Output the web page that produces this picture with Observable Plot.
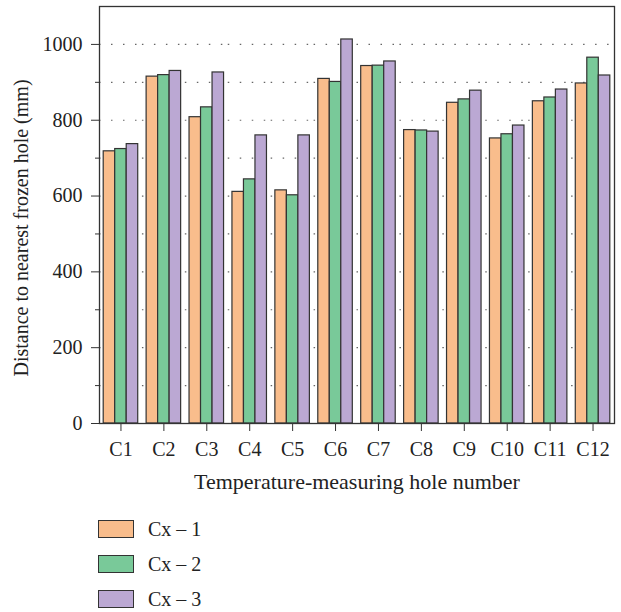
<!DOCTYPE html>
<html>
<head>
<meta charset="utf-8">
<script src="https://cdn.jsdelivr.net/npm/d3@7"></script>
<script src="https://cdn.jsdelivr.net/npm/@observablehq/plot@0.6"></script>
<style>
  body { margin: 0; background: #fff; font-family: "Liberation Serif", serif; }
  #chart svg { display: block; }
  #legend { margin-left: 98px; margin-top: 20px; }
  .item { display: flex; align-items: center; height: 18px; margin-bottom: 17px; font-size: 20px; color: #222; }
  .sw { width: 34px; height: 16px; border: 1.3px solid #333; margin-right: 14px; }
</style>
</head>
<body>
<div id="chart"></div>
<div id="legend"></div>
<script>
const holes = ["C1","C2","C3","C4","C5","C6","C7","C8","C9","C10","C11","C12"];
const series = ["Cx – 1","Cx – 2","Cx – 3"];
const cx1 = [718, 915, 808, 611, 615, 909, 943, 774, 846, 752, 850, 897];
const cx2 = [724, 919, 834, 644, 602, 901, 944, 773, 855, 763, 860, 965];
const cx3 = [737, 930, 926, 760, 760, 1013, 955, 770, 878, 786, 881, 918];
const colors = ["#F9BD8C", "#79C999", "#BBA8D3"];
const majorTicks = [0, 200, 400, 600, 800, 1000];
const minorTicks = [100, 300, 500, 700, 900];
const gridTicks = [100, 200, 300, 400, 500, 600, 700, 800, 900, 1000];

const values = [cx1, cx2, cx3];
const data = [];
holes.forEach((h, i) => series.forEach((s, k) => data.push({hole: h, series: s, value: values[k][i]})));

const chart = Plot.plot({
  width: 621,
  height: 500,
  marginLeft: 99,
  marginRight: 7,
  marginTop: 6,
  marginBottom: 77,
  style: {fontFamily: "Liberation Serif, serif", fontSize: "20px", color: "#222", background: "#fff"},
  fx: {domain: holes, padding: 0, round: false, label: null},
  x: {domain: series, paddingInner: 0, paddingOuter: 0.365, round: false, axis: null},
  y: {domain: [0, 1100], label: null},
  color: {domain: series, range: colors},
  marks: [
    Plot.ruleY(gridTicks, {stroke: "#666", strokeDasharray: "1.5,10.5", strokeWidth: 1.2}),
    Plot.barY(data, {fx: "hole", x: "series", y: "value", fill: "series", stroke: "#333", strokeWidth: 1.2}),
    Plot.axisY(majorTicks, {tickSize: 8, tickPadding: 9, stroke: "#333", fontSize: 20, tickFormat: d => String(d)}),
    Plot.axisY(minorTicks, {tickSize: 4, tickFormat: () => null, stroke: "#333"}),
    Plot.axisFx({anchor: "bottom", tickSize: 8, tickPadding: 10, stroke: "#333", fontSize: 20, label: null}),
    Plot.text(["Temperature-measuring hole number"], {frameAnchor: "bottom", textAnchor: "middle", dy: 65, facet: "super", fontSize: 22, fill: "#222"}),
    Plot.text(["Distance to nearest frozen hole (mm)"], {frameAnchor: "left", textAnchor: "middle", rotate: -90, dx: -78, dy: 13, facet: "super", fontSize: 20, fill: "#222"}),
    Plot.frame({facet: "super", stroke: "#333", strokeWidth: 1.3})
  ]
});
document.getElementById("chart").appendChild(chart);

const legend = document.getElementById("legend");
series.forEach((s, k) => {
  const row = document.createElement("div");
  row.className = "item";
  const sw = document.createElement("div");
  sw.className = "sw";
  sw.style.background = colors[k];
  const t = document.createElement("span");
  t.textContent = s;
  row.appendChild(sw); row.appendChild(t);
  legend.appendChild(row);
});
</script>
</body>
</html>
